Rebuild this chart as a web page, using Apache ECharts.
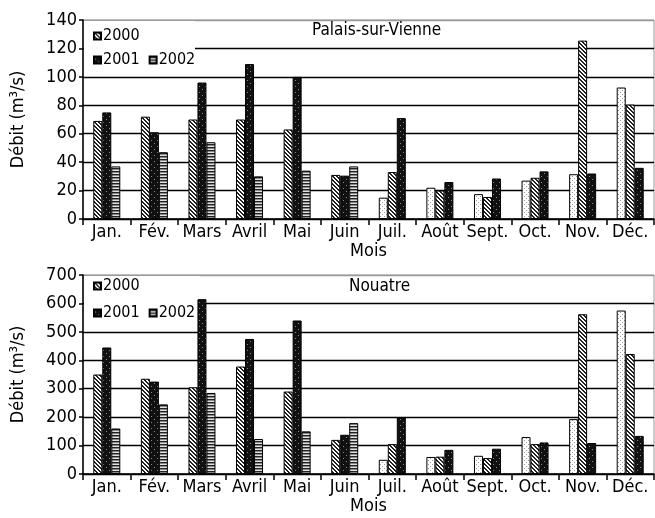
<!DOCTYPE html>
<html><head><meta charset="utf-8">
<script src="https://cdn.jsdelivr.net/npm/echarts@6/dist/echarts.min.js"></script>
<style>html,body{margin:0;padding:0;background:#fff}#c{width:655px;height:518px}</style>
</head><body><div id="c"></div>
<script>
// ---- data ----
const months = ['Jan.','Fév.','Mars','Avril','Mai','Juin','Juil.','Août','Sept.','Oct.','Nov.','Déc.'];
const legendNames = ['2000','2001','2002'];
const yTicksTop = [0,20,40,60,80,100,120,140];
const yTicksBottom = [0,100,200,300,400,500,600,700];
// Palais-sur-Vienne : bar values by position in each month group (left, middle, right)
const palaisLeft   = [69, 72, 70, 70, 63, 31, 15, 22, 17.5, 27, 31.5, 92.5];
const palaisMiddle = [75, 61, 96, 109, 100, 30.5, 33, 20, 15.5, 29, 125.5, 80.5];
const palaisRight  = [37, 47, 54, 30, 34, 37, 71, 26, 28.5, 33.5, 32, 36];
// Nouatre
const nouatreLeft   = [350, 335, 305, 378, 290, 120, 50, 60, 64, 130, 193, 575];
const nouatreMiddle = [445, 325, 615, 475, 540, 138, 105, 61, 56, 105, 562, 422];
const nouatreRight  = [160, 245, 285, 123, 150, 179, 199, 85, 89, 111, 109, 134];

// ---- patterns ----
function pat(w, h, draw) {
  const c = document.createElement('canvas'); c.width = w; c.height = h;
  const g = c.getContext('2d'); draw(g); return {image: c, repeat: 'repeat'};
}
const P = {
  hatch: pat(4, 4, g => { g.fillStyle = '#fff'; g.fillRect(0,0,4,4); g.fillStyle = '#222';
    for (let i = 0; i < 4; i++) { g.fillRect(i, i, 1, 1); g.fillRect((i+1)%4, i, 1, 1); } }),
  black: pat(6, 6, g => { g.fillStyle = '#111'; g.fillRect(0,0,6,6); g.fillStyle = '#888';
    g.fillRect(1,2,1,1); g.fillRect(4,5,1,1); }),
  horiz: pat(2, 3, g => { g.fillStyle = '#222'; g.fillRect(0,0,2,1); g.fillStyle = '#888';
    g.fillRect(0,1,2,1); g.fillStyle = '#e0e0e0'; g.fillRect(0,2,2,1); }),
  dots: pat(4, 4, g => { g.fillStyle = '#fff'; g.fillRect(0,0,4,4); g.fillStyle = '#999';
    g.fillRect(0,0,1,1); g.fillRect(2,2,1,1); })
};
const firstHalf = [P.hatch, P.black, P.horiz];
const secondHalf = [P.dots, P.hatch, P.black];

const FONT = "'Liberation Sans Narrow','Arial Narrow','DejaVu Sans Condensed',sans-serif";

function buildSeries(arrays, gridIdx) {
  return arrays.map((arr, pos) => ({
    type: 'bar', name: legendNames[pos], xAxisIndex: gridIdx, yAxisIndex: gridIdx,
    barWidth: 9, barGap: '0%', z: 3,
    itemStyle: {color: firstHalf[pos], borderColor: '#000', borderWidth: 1},
    data: arr.map((v, i) => ({value: v, itemStyle: {color: i < 6 ? firstHalf[pos] : secondHalf[pos]}}))
  }));
}

function xAxis(gridIdx, gap) {
  return {type: 'category', gridIndex: gridIdx, data: months, name: 'Mois', nameLocation: 'middle', nameGap: gap,
    nameTextStyle: {fontFamily: FONT, fontSize: 18, color: '#000'},
    axisLine: {lineStyle: {color: '#000', width: 1.5}},
    axisTick: {show: true, length: 6, interval: 0, lineStyle: {color: '#000', width: 1.5}},
    axisLabel: {interval: 0, margin: 4, fontFamily: FONT, fontSize: 18, color: '#000'}};
}
function yAxis(gridIdx, ticks) {
  const colors = ticks.map((t, i) => i === ticks.length - 1 ? '#999' : '#000');
  return {type: 'value', gridIndex: gridIdx, min: ticks[0], max: ticks[ticks.length-1], interval: ticks[1]-ticks[0],
    name: 'Débit (m³/s)', nameLocation: 'middle', nameGap: 56,
    nameTextStyle: {fontFamily: FONT, fontSize: 18, color: '#000'},
    axisLine: {show: true, lineStyle: {color: '#000', width: 1.5}},
    axisTick: {show: true, length: 4, lineStyle: {color: '#000', width: 1.5}},
    axisLabel: {margin: 6, fontFamily: FONT, fontSize: 18, color: '#000'},
    splitLine: {show: true, lineStyle: {color: colors, width: 1.3}}};
}
function legend(data, left, top) {
  return {data: data, left: left, top: top, padding: 0, itemGap: 9, itemWidth: 7, itemHeight: 7,
    icon: 'rect', textStyle: {fontFamily: FONT, fontSize: 16, color: '#000', padding: [0,0,0,-3]},
    selectedMode: false, z: 10};
}

const chart = echarts.init(document.getElementById('c'), null, {renderer: 'canvas'});
chart.setOption({
  animation: false,
  backgroundColor: '#fff',
  grid: [
    {left: 83, top: 20, width: 571, height: 199, show: true, borderColor: '#999', borderWidth: 1},
    {left: 83, top: 275, width: 571, height: 199, show: true, borderColor: '#999', borderWidth: 1}
  ],
  title: [
    {text: 'Palais-sur-Vienne', left: 312, top: 22, padding: 0, textStyle: {fontFamily: FONT, fontSize: 17, fontWeight: 'normal', color: '#000'}},
    {text: 'Nouatre', left: 349, top: 278, padding: 0, textStyle: {fontFamily: FONT, fontSize: 17, fontWeight: 'normal', color: '#000'}}
  ],
  graphic: [
    {type: 'rect', shape: {x: 84, y: 21, width: 111, height: 49}, style: {fill: '#fff'}, z: 1},
    {type: 'rect', shape: {x: 84, y: 276, width: 116, height: 49}, style: {fill: '#fff'}, z: 1}
  ],
  legend: [
    legend(['2000'], 93, 28), legend(['2001','2002'], 93, 52),
    legend(['2000'], 93, 278), legend(['2001','2002'], 93, 305)
  ],
  xAxis: [xAxis(0, 17), xAxis(1, 20)],
  yAxis: [yAxis(0, yTicksTop), yAxis(1, yTicksBottom)],
  series: buildSeries([palaisLeft, palaisMiddle, palaisRight], 0)
    .concat(buildSeries([nouatreLeft, nouatreMiddle, nouatreRight], 1))
});
</script></body></html>
